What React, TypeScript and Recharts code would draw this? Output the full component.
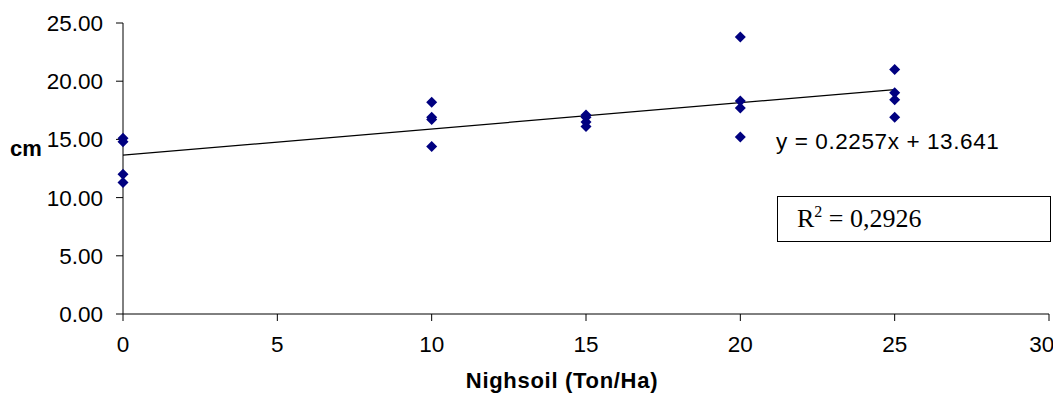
import React from "react";
import {
  ScatterChart, Scatter, XAxis, YAxis, ReferenceLine, Label,
} from "recharts";

const DOSES = [0, 0, 0, 0, 10, 10, 10, 10, 15, 15, 15, 15, 20, 20, 20, 20, 25, 25, 25, 25];
const HEIGHTS = [15.1, 14.8, 12.0, 11.3, 18.2, 16.9, 16.7, 14.4, 17.1, 16.9, 16.5, 16.1, 23.8, 18.3, 17.7, 15.2, 21.0, 19.0, 18.4, 16.9];

const X_TICKS = [0, 5, 10, 15, 20, 25, 30];
const Y_TICKS = [0, 5, 10, 15, 20, 25];

// linear trendline as printed on the chart
const SLOPE = 0.2257;
const INTERCEPT = 13.641;
const TREND_X = [0, 25];

const points = DOSES.map((x, i) => ({ x, y: HEIGHTS[i] }));
const trend = TREND_X.map((x) => ({ x, y: SLOPE * x + INTERCEPT }));

const NAVY = "#000080";
const FONT = "Arial, 'Liberation Sans', sans-serif";

const Diamond = (props: any) => {
  const { cx, cy } = props;
  const r = 5.5;
  return (
    <polygon
      points={`${cx},${cy - r} ${cx + r},${cy} ${cx},${cy + r} ${cx - r},${cy}`}
      fill={NAVY}
    />
  );
};

const tickStyle = { fill: "#000", fontSize: 22.5, fontFamily: FONT };

export default function App() {
  return (
    <div style={{ position: "absolute", left: 0, top: 0, width: 1053, height: 396, background: "#fff" }}>
      <ScatterChart width={1053} height={396} margin={{ top: 23, right: 4, bottom: 0, left: 0 }}>
        <XAxis
          type="number"
          dataKey="x"
          domain={[0, 30]}
          ticks={X_TICKS}
          stroke="#000"
          tickLine={{ stroke: "#000" }}
          tickSize={7}
          tick={tickStyle}
          tickMargin={15}
          height={82}
        >
          <Label
            value="Nighsoil (Ton/Ha)"
            position="insideBottom"
            offset={8}
            dx={-24}
            style={{ fill: "#000", fontSize: 22, fontWeight: "bold", fontFamily: FONT, letterSpacing: 0.7 }}
          />
        </XAxis>
        <YAxis
          type="number"
          dataKey="y"
          domain={[0, 25]}
          ticks={Y_TICKS}
          tickFormatter={(v: number) => v.toFixed(2)}
          stroke="#000"
          tickSize={7}
          tick={tickStyle}
          tickMargin={13}
          width={123}
        />
        <ReferenceLine
          segment={trend}
          stroke="#000"
          strokeWidth={1.2}
        />
        <Scatter data={points} shape={Diamond} isAnimationActive={false} />
      </ScatterChart>

      <div style={{ position: "absolute", left: 10, top: 136, fontFamily: FONT, fontWeight: "bold", fontSize: 22 }}>
        cm
      </div>
      <div style={{ position: "absolute", left: 776, top: 129, fontFamily: FONT, fontSize: 22.5, letterSpacing: 0.6 }}>
        y = 0.2257x + 13.641
      </div>
      <div
        style={{
          position: "absolute", left: 777, top: 196, width: 274, height: 46,
          border: "1.5px solid #000", boxSizing: "border-box",
          fontFamily: "'Times New Roman', 'Liberation Serif', serif", fontSize: 26,
          paddingLeft: 19, lineHeight: "43px",
        }}
      >
        R<sup style={{ fontSize: 16, verticalAlign: 0, position: "relative", top: -10 }}>2</sup> = 0,2926
      </div>
    </div>
  );
}
